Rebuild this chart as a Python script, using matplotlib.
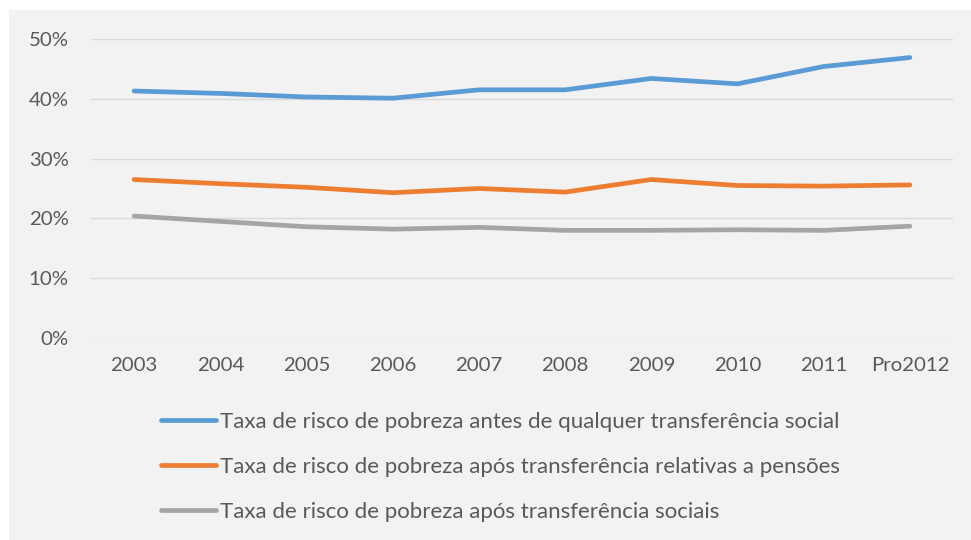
import matplotlib.pyplot as plt
from matplotlib.patches import Rectangle
from matplotlib.ticker import FuncFormatter

plt.rcParams['font.family'] = ['Lato', 'DejaVu Sans']

# Data
years = ["2003", "2004", "2005", "2006", "2007", "2008", "2009", "2010", "2011", "Pro2012"]
antes = [41.3, 40.9, 40.3, 40.1, 41.5, 41.5, 43.4, 42.5, 45.4, 46.9]
pensoes = [26.5, 25.8, 25.2, 24.3, 25.0, 24.4, 26.5, 25.5, 25.4, 25.6]
sociais = [20.4, 19.5, 18.6, 18.2, 18.5, 18.0, 18.0, 18.1, 18.0, 18.7]

labels = ["Taxa de risco de pobreza antes de qualquer transferência social",
          "Taxa de risco de pobreza após transferência relativas a pensões",
          "Taxa de risco de pobreza após transferência sociais"]
colors = ["#5B9BD5", "#ED7D31", "#A5A5A5"]

W, H = 971, 540
fig = plt.figure(figsize=(W / 100, H / 100), dpi=100, facecolor="white")
fig.patches.append(Rectangle((9 / W, 0), 1 - 9 / W, 1 - 10 / H,
                             transform=fig.transFigure, facecolor="#F2F2F2",
                             edgecolor="none", zorder=-10))

ax = fig.add_axes([91 / W, 1 - 338 / H, (953 - 91) / W, (338 - 39) / H])
ax.set_facecolor("none")

x = range(len(years))
for vals, lab, c in zip([antes, pensoes, sociais], labels, colors):
    ax.plot(x, vals, color=c, lw=3.4, solid_capstyle="round",
            solid_joinstyle="round", label=lab)

ax.set_xlim(-0.5, len(years) - 0.5)
ax.set_ylim(0, 50)
ax.set_yticks(range(0, 51, 10))
ax.yaxis.set_major_formatter(FuncFormatter(lambda v, p: f"{v:.0f}%"))
ax.set_xticks(list(x))
ax.set_xticklabels(years)
ax.grid(axis="y", color="#D9D9D9", lw=1)
ax.set_axisbelow(True)
for s in ax.spines.values():
    s.set_visible(False)
ax.tick_params(length=0, labelsize=14.7, labelcolor="#595959")
ax.tick_params(axis="y", pad=16)
ax.tick_params(axis="x", pad=14)

leg = fig.legend(loc="upper left", bbox_to_anchor=(141 / W, 1 - 392 / H),
                 frameon=False, fontsize=16, handlelength=2.48,
                 handletextpad=0.18, labelspacing=1.13)
for t in leg.get_texts():
    t.set_color("#595959")

fig.savefig("out.png", dpi=100, facecolor="white")
